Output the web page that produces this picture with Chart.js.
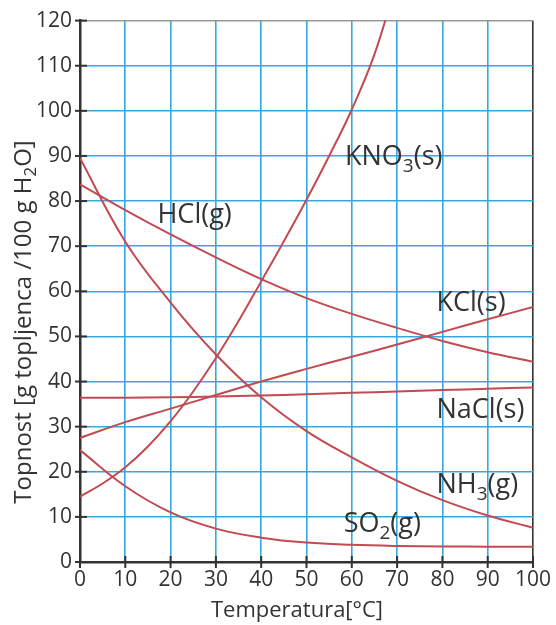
<!DOCTYPE html>
<html><head><meta charset="utf-8">
<script src="https://cdn.jsdelivr.net/npm/chart.js@4/dist/chart.umd.min.js"></script>
<style>html,body{margin:0;padding:0;background:#fff}#wrap{width:556px;height:625px;position:relative}</style>
</head><body><div id="wrap"><canvas id="c"></canvas></div>
<script>
// ---- data ----
const temps = [0,10,20,30,40,50,60,70,80,90,100];
const kno3Temps = [0,5,10,15,20,25,30,35,40,45,50,55,60,65,70];
const kno3Vals = [14.5,17.4,21,25.6,31.2,37.8,45.2,53.4,62.2,71.1,80.3,90,100.3,112.5,129];
const hclVals  = [83.7,78.0,72.6,67.5,62.7,58.5,55.0,51.9,49.0,46.5,44.4];
const nh3Vals  = [89.5,71,57.5,46,36.5,29,23.2,18,13.7,10.3,7.6];
const kclVals  = [27.5,31,34,37,40,42.8,45.5,48.2,51,53.8,56.5];
const naclVals = [36.4,36.4,36.5,36.7,36.9,37.2,37.5,37.8,38.1,38.4,38.7];
const so2Vals  = [24.8,16.8,11.0,7.4,5.4,4.3,3.8,3.55,3.45,3.4,3.4];
const xTicks = [0,10,20,30,40,50,60,70,80,90,100];
const yTicks = [0,10,20,30,40,50,60,70,80,90,100,110,120];
const xTitle = [{t:'Temperatura[°C]'}];
const yTitle = [{t:'Topnost [g topljenca /100 g H'},{t:'2',sub:true},{t:'O]'}];
// curve labels: [parts, x (data), y (data, baseline)]
const curveLabels = [
  [[{t:'KNO'},{t:'3',sub:true},{t:'(s)'}], 58.5, 88],
  [[{t:'HCl(g)'}], 17.1, 75.2],
  [[{t:'KCl(s)'}], 78.7, 55.7],
  [[{t:'NaCl(s)'}], 78.7, 31.9],
  [[{t:'NH'},{t:'3',sub:true},{t:'(g)'}], 78.7, 15.2],
  [[{t:'SO'},{t:'2',sub:true},{t:'(g)'}], 58.2, 6.6]
];

const RED = '#c24b53';
const BLUE = '#36a8df';
const DARK = '#333333';
const FONT = '"Open Sans", "Noto Sans", sans-serif';

function pts(xs, ys){ return xs.map((x,i)=>({x:x, y:ys[i]})); }
function ds(data){
  return {data:data, borderColor:RED, borderWidth:2, pointRadius:0, fill:false,
          tension:0.4};
}

function richWidth(ctx, parts, size, subSize){
  let w = 0;
  for (const p of parts){
    ctx.font = (p.sub ? subSize : size) + 'px ' + FONT;
    w += ctx.measureText(p.t).width;
  }
  return w;
}
function drawRich(ctx, parts, x, y, size, subSize, subDrop, align){
  const w = richWidth(ctx, parts, size, subSize);
  let cx = align === 'center' ? x - w/2 : (align === 'right' ? x - w : x);
  ctx.textAlign = 'left';
  ctx.textBaseline = 'alphabetic';
  for (const p of parts){
    ctx.font = (p.sub ? subSize : size) + 'px ' + FONT;
    ctx.fillText(p.t, cx, y + (p.sub ? subDrop : 0));
    cx += ctx.measureText(p.t).width;
  }
}

const decor = {
  id:'decor',
  afterDatasetsDraw(chart){
    const ctx = chart.ctx, xs = chart.scales.x, ys = chart.scales.y;
    ctx.save();
    ctx.fillStyle = DARK;
    for (const [parts, vx, vy] of curveLabels){
      drawRich(ctx, parts, xs.getPixelForValue(vx), ys.getPixelForValue(vy), 27, 19, 7, 'left');
    }
    ctx.restore();
  },
  afterDraw(chart){
    const ctx = chart.ctx, xs = chart.scales.x, ys = chart.scales.y, a = chart.chartArea;
    ctx.save();
    ctx.strokeStyle = DARK;
    ctx.lineWidth = 2;
    for (const v of yTicks){
      const py = ys.getPixelForValue(v);
      ctx.beginPath(); ctx.moveTo(a.left - 5, py); ctx.lineTo(a.left + 7, py); ctx.stroke();
    }
    for (const v of xTicks){
      const px = xs.getPixelForValue(v);
      ctx.beginPath(); ctx.moveTo(px, a.bottom - 6); ctx.lineTo(px, a.bottom + 6); ctx.stroke();
    }
    ctx.fillStyle = DARK;
    drawRich(ctx, xTitle, 297, 617, 22, 16, 5, 'center');
    ctx.translate(31, 322);
    ctx.rotate(-Math.PI/2);
    drawRich(ctx, yTitle, 0, 0, 24, 17, 5, 'center');
    ctx.restore();
  }
};

new Chart(document.getElementById('c'), {
  type:'line',
  data:{datasets:[
    ds(pts(kno3Temps, kno3Vals)),
    ds(pts(temps, hclVals)),
    ds(pts(temps, nh3Vals)),
    ds(pts(temps, kclVals)),
    ds(pts(temps, naclVals)),
    ds(pts(temps, so2Vals))
  ]},
  options:{
    responsive:true, maintainAspectRatio:false, animation:false,
    layout:{padding:{top:17, right:21, left:0, bottom:0}},
    plugins:{legend:{display:false}, tooltip:{enabled:false}},
    scales:{
      x:{type:'linear', min:0, max:100,
         afterBuildTicks(s){ s.ticks = xTicks.map(v=>({value:v})); },
         afterFit(s){ s.height = 63; },
         ticks:{font:{size:21, family:FONT}, color:DARK, padding:5, maxRotation:0},
         grid:{drawTicks:false, lineWidth:1.6,
               color:c => c.tick && c.tick.value === 100 ? DARK : BLUE},
         border:{color:DARK, width:2.5}},
      y:{type:'linear', min:0, max:120,
         afterBuildTicks(s){ s.ticks = yTicks.map(v=>({value:v})); },
         afterFit(s){ s.width = 80; },
         ticks:{font:{size:21, family:FONT}, color:DARK, padding:8},
         grid:{drawTicks:false, lineWidth:1.6,
               color:c => c.tick && c.tick.value === 120 ? '#999999' : BLUE},
         border:{color:DARK, width:2.5}}
    }
  },
  plugins:[decor]
});
</script></body></html>
